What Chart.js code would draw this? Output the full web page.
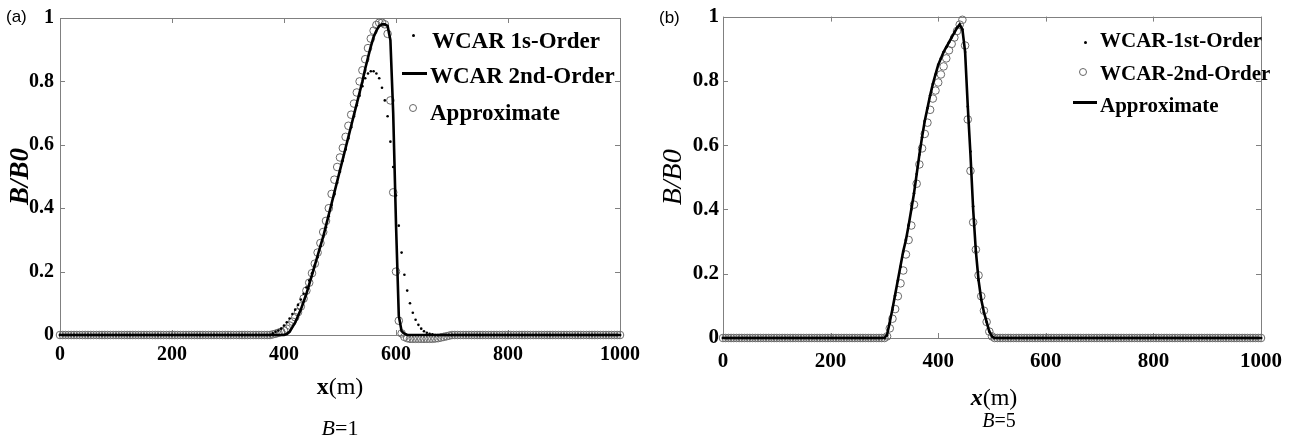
<!DOCTYPE html>
<html>
<head>
<meta charset="utf-8">
<script src="https://cdn.jsdelivr.net/npm/chart.js@4.4.1/dist/chart.umd.min.js"></script>
<style>
  html, body { margin: 0; padding: 0; background: #fff; }
  #wrap { position: relative; width: 1293px; height: 443px; overflow: hidden; font-family: 'Liberation Serif', serif; color: #000; }
  canvas { position: absolute; top: 0; }
  #chartA { left: 0; }
  #chartB { left: 650px; }
  .lbl { position: absolute; white-space: nowrap; line-height: 1; }
  .panel { font-family: 'Liberation Sans', Arial, sans-serif; font-size: 17px; }
  .leg { font-weight: bold; }
  .dot { position: absolute; width: 3px; height: 3px; border-radius: 50%; background: #000; }
  .ring { position: absolute; width: 6px; height: 6px; border-radius: 50%; border: 1px solid #666; }
  .bar { position: absolute; height: 3px; background: #000; }
</style>
</head>
<body>
<div id="wrap">
  <canvas id="chartA" width="650" height="443"></canvas>
  <canvas id="chartB" width="643" height="443"></canvas>

  <div class="lbl panel" style="left:6px; top:8px;">(a)</div>
  <div class="lbl panel" style="left:659px; top:9px;">(b)</div>

  <!-- legend (a) -->
  <div class="dot" style="left:412px; top:34px;"></div>
  <div class="lbl leg" style="left:432px; top:29px; font-size:23px;">WCAR 1s-Order</div>
  <div class="bar" style="left:402px; top:72px; width:25px;"></div>
  <div class="lbl leg" style="left:430px; top:64px; font-size:23px;">WCAR 2nd-Order</div>
  <div class="ring" style="left:409px; top:104px;"></div>
  <div class="lbl leg" style="left:430px; top:101px; font-size:23px;">Approximate</div>

  <!-- legend (b) -->
  <div class="dot" style="left:1084px; top:41px;"></div>
  <div class="lbl leg" style="left:1100px; top:30px; font-size:21px;">WCAR-1st-Order</div>
  <div class="ring" style="left:1079px; top:68px;"></div>
  <div class="lbl leg" style="left:1100px; top:63px; font-size:21px;">WCAR-2nd-Order</div>
  <div class="bar" style="left:1073px; top:101px; width:24px;"></div>
  <div class="lbl leg" style="left:1100px; top:95px; font-size:21px;">Approximate</div>

  <!-- axis captions -->
  <div class="lbl" style="left:280px; width:120px; text-align:center; top:374px; font-size:24px;"><b>x</b>(m)</div>
  <div class="lbl" style="left:280px; width:120px; text-align:center; top:417px; font-size:22px;"><i>B</i>=1</div>
  <div class="lbl" style="left:934px; width:120px; text-align:center; top:385px; font-size:24px;"><b><i>x</i></b>(m)</div>
  <div class="lbl" style="left:939px; width:120px; text-align:center; top:410px; font-size:20px;"><i>B</i>=5</div>
</div>

<script>
// x positions (m), shared by every series
const xm = [
  0,5,10,15,20,25,30,35,40,45,
  50,55,60,65,70,75,80,85,90,95,
  100,105,110,115,120,125,130,135,140,145,
  150,155,160,165,170,175,180,185,190,195,
  200,205,210,215,220,225,230,235,240,245,
  250,255,260,265,270,275,280,285,290,295,
  300,305,310,315,320,325,330,335,340,345,
  350,355,360,365,370,375,380,385,390,395,
  400,405,410,415,420,425,430,435,440,445,
  450,455,460,465,470,475,480,485,490,495,
  500,505,510,515,520,525,530,535,540,545,
  550,555,560,565,570,575,580,585,590,595,
  600,605,610,615,620,625,630,635,640,645,
  650,655,660,665,670,675,680,685,690,695,
  700,705,710,715,720,725,730,735,740,745,
  750,755,760,765,770,775,780,785,790,795,
  800,805,810,815,820,825,830,835,840,845,
  850,855,860,865,870,875,880,885,890,895,
  900,905,910,915,920,925,930,935,940,945,
  950,955,960,965,970,975,980,985,990,995,
  1000
];

// (a) B = 1
const firstA = [
  0,0,0,0,0,0,0,0,0,0,
  0,0,0,0,0,0,0,0,0,0,
  0,0,0,0,0,0,0,0,0,0,
  0,0,0,0,0,0,0,0,0,0,
  0,0,0,0,0,0,0,0,0,0,
  0,0,0,0,0,0,0,0,0,0,
  0,0,0,0,0,0,0,0,0,0,
  0,0,0,0,0,0,0.005,0.01,0.014,0.02,
  0.03,0.04,0.052,0.066,0.08,0.095,0.112,0.13,0.15,0.172,
  0.195,0.22,0.245,0.28,0.31,0.34,0.375,0.41,0.445,0.48,
  0.515,0.55,0.585,0.62,0.655,0.69,0.725,0.755,0.785,0.81,
  0.825,0.832,0.832,0.825,0.81,0.78,0.74,0.69,0.61,0.53,
  0.44,0.345,0.26,0.19,0.14,0.10,0.07,0.048,0.032,0.02,
  0.012,0.007,0.004,0.002,0,0,0,0,0,0,
  0,0,0,0,0,0,0,0,0,0,
  0,0,0,0,0,0,0,0,0,0,
  0,0,0,0,0,0,0,0,0,0,
  0,0,0,0,0,0,0,0,0,0,
  0,0,0,0,0,0,0,0,0,0,
  0,0,0,0,0,0,0,0,0,0,
  0
];
const secondA = [
  0,0,0,0,0,0,0,0,0,0,
  0,0,0,0,0,0,0,0,0,0,
  0,0,0,0,0,0,0,0,0,0,
  0,0,0,0,0,0,0,0,0,0,
  0,0,0,0,0,0,0,0,0,0,
  0,0,0,0,0,0,0,0,0,0,
  0,0,0,0,0,0,0,0,0,0,
  0,0,0,0,0,0,0,0,0,0,
  0,0.003,0.01,0.025,0.04,0.06,0.08,0.105,0.13,0.16,
  0.19,0.22,0.25,0.28,0.31,0.345,0.38,0.415,0.45,0.485,
  0.52,0.555,0.59,0.625,0.66,0.695,0.73,0.765,0.80,0.84,
  0.875,0.91,0.94,0.96,0.975,0.98,0.98,0.975,0.93,0.70,
  0.35,0.06,0.012,0.004,0,0,0,0,0,0,
  0,0,0,0,0,0,0,0,0,0,
  0,0,0,0,0,0,0,0,0,0,
  0,0,0,0,0,0,0,0,0,0,
  0,0,0,0,0,0,0,0,0,0,
  0,0,0,0,0,0,0,0,0,0,
  0,0,0,0,0,0,0,0,0,0,
  0,0,0,0,0,0,0,0,0,0,
  0
];
const approxA = [
  0,0,0,0,0,0,0,0,0,0,
  0,0,0,0,0,0,0,0,0,0,
  0,0,0,0,0,0,0,0,0,0,
  0,0,0,0,0,0,0,0,0,0,
  0,0,0,0,0,0,0,0,0,0,
  0,0,0,0,0,0,0,0,0,0,
  0,0,0,0,0,0,0,0,0,0,
  0,0,0,0,0,0,0.002,0.004,0.007,0.01,
  0.014,0.02,0.03,0.042,0.056,0.072,0.09,0.115,0.14,0.165,
  0.195,0.225,0.26,0.29,0.325,0.36,0.40,0.445,0.49,0.53,
  0.56,0.59,0.625,0.66,0.695,0.73,0.765,0.80,0.835,0.87,
  0.905,0.935,0.96,0.978,0.985,0.985,0.98,0.95,0.74,0.45,
  0.20,0.045,0.005,-0.006,-0.01,-0.012,-0.012,-0.012,-0.012,-0.012,
  -0.012,-0.012,-0.012,-0.012,-0.011,-0.01,-0.008,-0.006,-0.004,-0.002,
  0,0,0,0,0,0,0,0,0,0,
  0,0,0,0,0,0,0,0,0,0,
  0,0,0,0,0,0,0,0,0,0,
  0,0,0,0,0,0,0,0,0,0,
  0,0,0,0,0,0,0,0,0,0,
  0,0,0,0,0,0,0,0,0,0,
  0
];

// (b) B = 5
const firstB = [
  0,0,0,0,0,0,0,0,0,0,
  0,0,0,0,0,0,0,0,0,0,
  0,0,0,0,0,0,0,0,0,0,
  0,0,0,0,0,0,0,0,0,0,
  0,0,0,0,0,0,0,0,0,0,
  0,0,0,0,0,0,0,0,0,0,
  0,0.008,0.045,0.088,0.132,0.178,0.222,0.268,0.305,0.35,
  0.40,0.45,0.51,0.57,0.625,0.675,0.715,0.755,0.79,0.82,
  0.85,0.87,0.89,0.905,0.92,0.935,0.95,0.965,0.975,0.96,
  0.89,0.72,0.58,0.41,0.27,0.18,0.12,0.08,0.05,0.02,
  0.005,0,0,0,0,0,0,0,0,0,
  0,0,0,0,0,0,0,0,0,0,
  0,0,0,0,0,0,0,0,0,0,
  0,0,0,0,0,0,0,0,0,0,
  0,0,0,0,0,0,0,0,0,0,
  0,0,0,0,0,0,0,0,0,0,
  0,0,0,0,0,0,0,0,0,0,
  0,0,0,0,0,0,0,0,0,0,
  0,0,0,0,0,0,0,0,0,0,
  0,0,0,0,0,0,0,0,0,0,
  0
];
const secondB = [
  0,0,0,0,0,0,0,0,0,0,
  0,0,0,0,0,0,0,0,0,0,
  0,0,0,0,0,0,0,0,0,0,
  0,0,0,0,0,0,0,0,0,0,
  0,0,0,0,0,0,0,0,0,0,
  0,0,0,0,0,0,0,0,0,0,
  0,0.005,0.03,0.06,0.09,0.13,0.17,0.21,0.26,0.305,
  0.35,0.415,0.48,0.54,0.59,0.635,0.67,0.71,0.745,0.77,
  0.795,0.82,0.845,0.87,0.895,0.915,0.935,0.955,0.975,0.99,
  0.91,0.68,0.52,0.36,0.275,0.195,0.13,0.085,0.05,0.02,
  0.005,0,0,0,0,0,0,0,0,0,
  0,0,0,0,0,0,0,0,0,0,
  0,0,0,0,0,0,0,0,0,0,
  0,0,0,0,0,0,0,0,0,0,
  0,0,0,0,0,0,0,0,0,0,
  0,0,0,0,0,0,0,0,0,0,
  0,0,0,0,0,0,0,0,0,0,
  0,0,0,0,0,0,0,0,0,0,
  0,0,0,0,0,0,0,0,0,0,
  0,0,0,0,0,0,0,0,0,0,
  0
];
const approxB = [
  0,0,0,0,0,0,0,0,0,0,
  0,0,0,0,0,0,0,0,0,0,
  0,0,0,0,0,0,0,0,0,0,
  0,0,0,0,0,0,0,0,0,0,
  0,0,0,0,0,0,0,0,0,0,
  0,0,0,0,0,0,0,0,0,0,
  0,0.01,0.05,0.09,0.135,0.18,0.225,0.27,0.305,0.35,
  0.40,0.45,0.51,0.57,0.625,0.675,0.715,0.755,0.79,0.82,
  0.85,0.87,0.89,0.905,0.92,0.935,0.95,0.965,0.975,0.96,
  0.89,0.72,0.57,0.40,0.27,0.18,0.12,0.08,0.05,0.02,
  0.005,0,0,0,0,0,0,0,0,0,
  0,0,0,0,0,0,0,0,0,0,
  0,0,0,0,0,0,0,0,0,0,
  0,0,0,0,0,0,0,0,0,0,
  0,0,0,0,0,0,0,0,0,0,
  0,0,0,0,0,0,0,0,0,0,
  0,0,0,0,0,0,0,0,0,0,
  0,0,0,0,0,0,0,0,0,0,
  0,0,0,0,0,0,0,0,0,0,
  0,0,0,0,0,0,0,0,0,0,
  0
];

const xTicks = [0, 200, 400, 600, 800, 1000];
const yTicks = [0, 0.2, 0.4, 0.6, 0.8, 1];

const pts = arr => xm.map((x, i) => ({ x: x, y: arr[i] }));

// box round the plot with short inward ticks on all four sides
const frameTicks = {
  id: 'frameTicks',
  beforeDatasetsDraw(chart) {
    const { ctx, chartArea: a, scales } = chart;
    const len = 5;
    ctx.save();
    ctx.strokeStyle = '#808080';
    ctx.lineWidth = 1;
    ctx.strokeRect(Math.round(a.left) + 0.5, Math.round(a.top) + 0.5, Math.round(a.width), Math.round(a.height));
    ctx.beginPath();
    xTicks.forEach(v => {
      const p = Math.round(scales.x.getPixelForValue(v)) + 0.5;
      ctx.moveTo(p, a.bottom); ctx.lineTo(p, a.bottom - len);
      ctx.moveTo(p, a.top); ctx.lineTo(p, a.top + len);
    });
    yTicks.forEach(v => {
      const p = Math.round(scales.y.getPixelForValue(v)) + 0.5;
      ctx.moveTo(a.left, p); ctx.lineTo(a.left + len, p);
      ctx.moveTo(a.right, p); ctx.lineTo(a.right - len, p);
    });
    ctx.stroke();
    ctx.restore();
  }
};

function makeChart(id, cfg) {
  const tickFont = { family: 'Liberation Serif', weight: 'bold', size: cfg.tickSize };
  return new Chart(document.getElementById(id), {
    type: 'scatter',
    data: { datasets: cfg.datasets },
    options: {
      responsive: false,
      animation: false,
      devicePixelRatio: 1,
      events: [],
      layout: { padding: { top: 12, right: cfg.padRight, left: 0, bottom: 0 } },
      plugins: { legend: { display: false }, tooltip: { enabled: false } },
      scales: {
        x: {
          type: 'linear', min: 0, max: 1000,
          afterBuildTicks: s => { s.ticks = xTicks.map(v => ({ value: v })); },
          ticks: { color: '#000', font: tickFont, padding: cfg.xPad, maxRotation: 0, callback: v => String(v) },
          grid: { display: false, drawTicks: false },
          border: { display: false },
          afterFit: s => { s.height = cfg.xHeight; }
        },
        y: {
          type: 'linear', min: 0, max: 1,
          afterBuildTicks: s => { s.ticks = yTicks.map(v => ({ value: v })); },
          ticks: { color: '#000', font: tickFont, padding: cfg.yPad, callback: v => String(v) },
          grid: { display: false, drawTicks: false },
          border: { display: false },
          title: {
            display: true, text: 'B/B0', color: '#000',
            font: cfg.titleFont, padding: { top: cfg.titlePad, bottom: 0 }
          },
          afterFit: s => { s.width = cfg.yWidth; }
        }
      }
    },
    plugins: [frameTicks]
  });
}

const lineStyle = { showLine: true, borderColor: '#000', borderWidth: 2.6, pointRadius: 0, clip: false };
const dotStyle = { showLine: false, pointRadius: 1.3, pointBackgroundColor: '#000', pointBorderWidth: 0, clip: false };
const ringStyle = { showLine: false, pointRadius: 3.8, pointBackgroundColor: 'rgba(0,0,0,0)', pointBorderColor: '#6a6a6a', pointBorderWidth: 1, clip: false };

makeChart('chartA', {
  tickSize: 20, xPad: 8, yPad: 6, xHeight: 108, yWidth: 60, padRight: 30, titlePad: 5,
  titleFont: { family: 'Liberation Serif', size: 27, weight: 'bold', style: 'italic' },
  datasets: [
    Object.assign({ label: 'WCAR 2nd-Order', data: pts(secondA) }, lineStyle),
    Object.assign({ label: 'WCAR 1s-Order', data: pts(firstA) }, dotStyle),
    Object.assign({ label: 'Approximate', data: pts(approxA) }, ringStyle)
  ]
});

makeChart('chartB', {
  tickSize: 21, xPad: 11, yPad: 4, xHeight: 105, yWidth: 73, padRight: 24, titlePad: 7,
  titleFont: { family: 'Liberation Serif', size: 28, weight: 'normal', style: 'italic' },
  datasets: [
    Object.assign({ label: 'Approximate', data: pts(approxB) }, lineStyle),
    Object.assign({ label: 'WCAR-1st-Order', data: pts(firstB) }, dotStyle),
    Object.assign({ label: 'WCAR-2nd-Order', data: pts(secondB) }, ringStyle)
  ]
});
</script>
</body>
</html>
